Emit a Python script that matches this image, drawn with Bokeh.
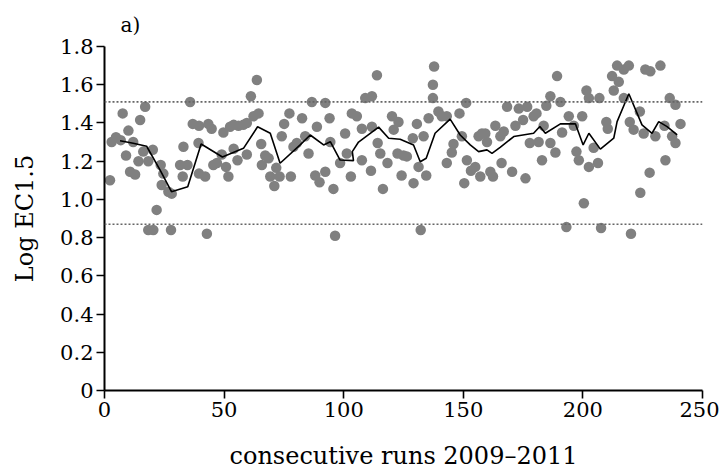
from bokeh.plotting import figure
from bokeh.models import Range1d, FixedTicker, Span
from bokeh.embed import file_html
from bokeh.resources import INLINE

# ---- data ----
run = [2.3, 3.0, 4.8, 6.8, 7.6, 9.0, 10.0, 10.7, 12.0, 12.8, 14.2, 14.9, 16.2, 17.0, 18.3, 20.2,
       18.3, 20.4, 21.8, 23.5, 23.9, 24.6, 26.7, 28.1, 27.8, 31.6, 32.7, 33.0, 34.7, 35.8, 36.9,
       39.5, 39.3, 39.5,
       42.1, 42.8, 45.5, 47.0, 49.0, 50.8, 51.8, 54.0, 55.6, 59.5, 43.4, 44.8, 49.7, 52.5, 54.0,
       56.0, 58.0, 59.5, 62.3, 64.4, 63.7, 61.2, 65.5, 65.8, 67.2, 68.6, 69.3, 71.0, 71.8, 73.2,
       74.1, 75.1, 77.3, 77.9, 79.0, 80.4, 82.6,
       83.9, 85.3, 86.7, 88.1, 88.8, 89.9, 92.3, 92.3, 94.1, 94.4, 95.7, 96.4, 98.5, 100.6, 101.3,
       103.0, 103.4, 105.5, 107.6, 107.6, 109.0, 111.8, 113.9, 111.8, 111.4, 114.2, 115.3, 116.4,
       118.3, 120.2, 120.9, 122.9, 122.5, 124.2,
       125.0, 126.4, 129.2, 128.9, 130.6, 131.3, 132.2, 133.4, 134.5, 135.5, 137.3, 137.3, 137.8,
       139.6, 141.0, 143.1, 143.1, 145.2, 145.9, 148.4, 151.2, 149.4, 150.4, 151.5, 153.2, 155.0,
       157.1, 156.4, 157.8, 159.2, 159.9, 161.3, 162.4, 163.4, 166.0,
       165.5, 166.9, 168.3, 170.4, 171.8, 173.2, 175.0, 176.0, 176.7, 177.8, 179.4, 180.6, 181.5,
       182.9, 183.6, 184.7, 186.4, 186.4, 188.5, 189.2, 190.6, 191.3, 193.1, 194.1, 196.2, 197.3,
       198.3, 199.7, 200.4, 201.5, 202.5, 202.5, 204.5, 206.3, 206.9, 207.6,
       209.8, 210.4, 212.9, 212.2, 214.3, 215.0, 217.1, 219.2, 217.1, 219.6, 220.1, 221.2, 223.8,
       224.0, 225.4, 226.1, 228.2, 227.9, 230.3, 232.4, 234.5, 234.1, 236.3, 238.7, 237.3, 238.7,
       240.8]
log_ec = [1.10, 1.30, 1.325, 1.31, 1.45, 1.23, 1.36, 1.145, 1.30, 1.13, 1.20, 1.415, 1.25, 1.485, 1.20, 1.26,
          0.84, 0.84, 0.945, 1.18, 1.075, 1.135, 1.04, 1.03, 0.84, 1.18, 1.12, 1.275, 1.18, 1.51, 1.395,
          1.385, 1.295, 1.135,
          1.12, 0.82, 1.18, 1.19, 1.235, 1.17, 1.12, 1.265, 1.205, 1.235, 1.395, 1.37, 1.35, 1.38, 1.39,
          1.385, 1.39, 1.40, 1.435, 1.45, 1.625, 1.54, 1.29, 1.18, 1.23, 1.215, 1.12, 1.07, 1.165, 1.12,
          1.33, 1.395, 1.45, 1.12, 1.275, 1.295, 1.425,
          1.33, 1.24, 1.51, 1.125, 1.38, 1.09, 1.505, 1.145, 1.425, 1.30, 1.055, 0.81, 1.19, 1.345, 1.24,
          1.12, 1.45, 1.435, 1.37, 1.205, 1.53, 1.54, 1.65, 1.38, 1.15, 1.295, 1.24, 1.055,
          1.19, 1.435, 1.365, 1.405, 1.24, 1.125,
          1.23, 1.225, 1.085, 1.32, 1.395, 1.17, 0.84, 1.33, 1.125, 1.425, 1.53, 1.60, 1.695,
          1.46, 1.435, 1.435, 1.19, 1.245, 1.29, 1.45, 1.505, 1.33, 1.085, 1.205, 1.15, 1.17,
          1.12, 1.33, 1.345, 1.345, 1.30, 1.145, 1.12, 1.385, 1.19,
          1.33, 1.355, 1.485, 1.145, 1.385, 1.475, 1.415, 1.11, 1.485, 1.295, 1.435, 1.45, 1.30,
          1.205, 1.385, 1.49, 1.295, 1.54, 1.245, 1.645, 1.51, 1.35, 0.855, 1.435, 1.385, 1.25,
          1.205, 1.435, 0.98, 1.57, 1.53, 1.17, 1.27, 1.19, 1.53, 0.85,
          1.405, 1.37, 1.57, 1.645, 1.70, 1.615, 1.68, 1.70, 1.53, 1.405, 0.82, 1.365, 1.46,
          1.035, 1.345, 1.68, 1.67, 1.14, 1.33, 1.70, 1.205, 1.385, 1.53, 1.495, 1.33, 1.295,
          1.395]

avg_run = [6.5, 12.0, 17.6, 23.2, 28.0, 34.8, 40.4, 49.3, 58.1, 64.0, 69.3, 73.4, 81.8,
           86.0, 91.6, 94.4, 98.5, 104.1, 103.6, 106.2, 114.6, 118.8, 123.6,
           129.2, 132.0, 134.5, 138.2, 144.5, 148.7, 152.9, 156.4, 159.9, 162.0, 165.4,
           171.1, 179.4, 182.0, 184.3, 190.6, 196.9, 200.1, 202.5, 207.3,
           212.9, 214.3, 219.2, 224.7, 228.9, 231.7, 235.2, 239.4]
avg_val = [1.307, 1.294, 1.278, 1.154, 1.04, 1.066, 1.29, 1.222, 1.267, 1.38, 1.346, 1.189, 1.285,
           1.337, 1.285, 1.302, 1.206, 1.203, 1.25, 1.30, 1.378, 1.32, 1.315,
           1.285, 1.197, 1.215, 1.346, 1.42, 1.337, 1.285, 1.25, 1.259, 1.241, 1.272,
           1.329, 1.346, 1.381, 1.346, 1.395, 1.395, 1.285, 1.346, 1.263,
           1.32, 1.407, 1.553, 1.39, 1.346, 1.407, 1.381, 1.337]

limits = [1.51, 0.87]

x_ticks = [0, 50, 100, 150, 200, 250]
y_ticks = [0, 0.2, 0.4, 0.6, 0.8, 1.0, 1.2, 1.4, 1.6, 1.8]
y_tick_labels = ["0", "0.2", "0.4", "0.6", "0.8", "1.0", "1.2", "1.4", "1.6", "1.8"]

FONT = "DejaVu Serif"

p = figure(width=719, height=472, output_backend="svg", toolbar_location=None,
           x_range=Range1d(0, 250), y_range=Range1d(0, 1.8),
           min_border_left=104, min_border_right=17, min_border_top=45, min_border_bottom=82)
p.outline_line_color = None
p.grid.visible = False
p.background_fill_color = "white"
p.border_fill_color = "white"

p.title.text = "a)"
p.title.text_font = FONT
p.title.text_font_size = "20px"
p.title.text_font_style = "normal"
p.title.text_color = "black"
p.title.align = "left"
p.title.offset = 16
p.title.standoff = 20

for lim in limits:
    p.add_layout(Span(location=lim, dimension="width", line_color="#666666",
                      line_width=1.6, line_dash="2 2"))

p.scatter(run, log_ec, size=10.5, fill_color="#808080", line_color=None)
p.line(avg_run, avg_val, line_color="black", line_width=1.6)

p.xaxis.ticker = FixedTicker(ticks=x_ticks)
p.yaxis.ticker = FixedTicker(ticks=y_ticks)
p.yaxis.major_label_overrides = {t: l for t, l in zip(y_ticks, y_tick_labels)}
p.xaxis.axis_label = "consecutive runs 2009\u20132011"
p.yaxis.axis_label = "Log EC1.5"

for ax in (p.xaxis, p.yaxis):
    ax.axis_line_width = 2
    ax.axis_line_color = "black"
    ax.major_tick_line_width = 1.6
    ax.major_tick_line_color = "black"
    ax.major_tick_in = 0
    ax.major_tick_out = 8
    ax.minor_tick_line_color = None
    ax.major_label_text_font = FONT
    ax.major_label_text_font_size = "21px"
    ax.major_label_text_color = "black"
    ax.axis_label_text_font = FONT
    ax.axis_label_text_font_size = "24px"
    ax.axis_label_text_font_style = "normal"
    ax.axis_label_text_color = "black"
    ax.major_label_standoff = 3
p.xaxis.axis_label_standoff = 22
p.yaxis.axis_label_standoff = 18

open("out.html", "w").write(file_html(p, INLINE))
